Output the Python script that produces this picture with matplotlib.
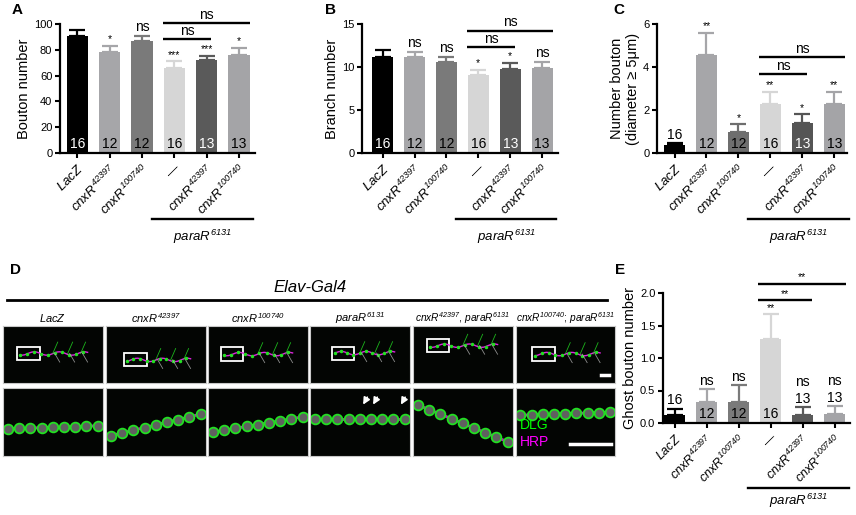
import matplotlib
matplotlib.use("Agg")
import matplotlib.pyplot as plt
import matplotlib.transforms as mtransforms
from matplotlib.patches import Rectangle
import numpy as np

plt.rcParams['font.family'] = ['Liberation Sans', 'DejaVu Sans']
plt.rcParams['mathtext.fontset'] = 'custom'
plt.rcParams['mathtext.rm'] = 'Liberation Sans:italic'
plt.rcParams['mathtext.it'] = 'Liberation Sans:italic'
plt.rcParams['mathtext.default'] = 'it'

# ---------------- data ----------------
genotypes = ["$LacZ$", "$cnxR^{42397}$", "$cnxR^{100740}$", "\u2014",
             "$cnxR^{42397}$", "$cnxR^{100740}$"]
group_label = "$paraR^{6131}$"
n_per_group = ["16", "12", "12", "16", "13", "13"]

bouton_mean = [91, 78, 87, 66, 72, 76]
bouton_err = [4.5, 5, 4, 5, 3.5, 5.5]
bouton_sig = ["", "*", "ns", "***", "***", "*"]

branch_mean = [11.2, 11.2, 10.6, 9.1, 9.8, 9.9]
branch_err = [0.8, 0.6, 0.6, 0.6, 0.7, 0.7]
branch_sig = ["", "ns", "ns", "*", "*", "ns"]

big_mean = [0.35, 4.55, 1.0, 2.3, 1.38, 2.3]
big_err = [0.1, 1.05, 0.35, 0.55, 0.42, 0.55]
big_sig = ["", "**", "*", "**", "*", "**"]

ghost_mean = [0.12, 0.33, 0.33, 1.3, 0.13, 0.14]
ghost_err = [0.1, 0.19, 0.25, 0.37, 0.11, 0.12]
ghost_sig = ["", "ns", "ns", "**", "ns", "ns"]

d_columns = ["$LacZ$", "$cnxR^{42397}$", "$cnxR^{100740}$", "$paraR^{6131}$",
             "$cnxR^{42397}$, $paraR^{6131}$", "$cnxR^{100740}$; $paraR^{6131}$"]

bar_colors = ["#000000", "#a6a6a9", "#7a7a7a", "#d6d6d6", "#5a5a5a", "#a4a4a7"]
bar_colors_c = ["#000000", "#a6a6a9", "#6e6e6e", "#d6d6d6", "#555555", "#a4a4a7"]

W, H = 856, 515
fig = plt.figure(figsize=(W / 100, H / 100), dpi=100)


def rect(x0, y0, x1, y1):
    return [x0 / W, 1 - y1 / H, (x1 - x0) / W, (y1 - y0) / H]


def bar_panel(r, xlim, means, errs, sigs, colors, ncolors, npos, ylim, yticks,
              yticklabels, ylabel, brackets, bracket_txt, under_y, para_y,
              fs_x=9.5):
    ax = fig.add_axes(r)
    x = np.arange(len(means))
    ax.bar(x, means, width=0.66, color=colors, zorder=2)
    for i in x:
        ax.errorbar(i, means[i], yerr=[[0], [errs[i]]], color=colors[i],
                    capsize=5.5, capthick=1.6, elinewidth=1.6, zorder=1,
                    clip_on=False)
        top = means[i] + errs[i]
        if npos[i] == "in":
            ax.annotate(n_per_group[i], (i, 0), xytext=(0, 1.5),
                        textcoords="offset points", ha="center", va="bottom",
                        fontsize=10, color=ncolors[i], zorder=3)
            ax.annotate(sigs[i], (i, top), xytext=(0, 1),
                        textcoords="offset points", ha="center", va="bottom",
                        fontsize=10 if sigs[i] == "ns" else 7.5,
                        annotation_clip=False)
        else:
            ax.annotate(n_per_group[i], (i, top), xytext=(0, 1),
                        textcoords="offset points", ha="center", va="bottom",
                        fontsize=10, color=ncolors[i], annotation_clip=False)
            ax.annotate(sigs[i], (i, top), xytext=(0, 13),
                        textcoords="offset points", ha="center", va="bottom",
                        fontsize=10 if sigs[i] == "ns" else 7.5,
                        annotation_clip=False)
    for (x1, x2, yb), t in zip(brackets, bracket_txt):
        ax.plot([x1, x2], [yb, yb], color="black", lw=1.7, clip_on=False,
                solid_capstyle="butt")
        ax.annotate(t, ((x1 + x2) / 2, yb), xytext=(0, 1),
                    textcoords="offset points", ha="center", va="bottom",
                    fontsize=10 if t == "ns" else 7.5, annotation_clip=False)
    ax.set_xlim(*xlim)
    ax.set_ylim(*ylim)
    ax.set_yticks(yticks)
    ax.set_yticklabels(yticklabels, fontsize=8)
    ax.set_xticks(x)
    ax.set_xticklabels(genotypes, rotation=45, ha="right",
                       rotation_mode="anchor", fontsize=fs_x)
    ax.set_ylabel(ylabel, fontsize=10.5, labelpad=2)
    for s in ["top", "right"]:
        ax.spines[s].set_visible(False)
    for s in ["left", "bottom"]:
        ax.spines[s].set_linewidth(1.6)
    ax.tick_params(axis="both", width=1.5, length=3.5, pad=2)
    ax.tick_params(axis="x", pad=3)
    tr = mtransforms.blended_transform_factory(ax.transData, ax.transAxes)
    ax.plot([2.3, 5.45], [under_y, under_y], color="black", lw=1.7,
            transform=tr, clip_on=False)
    ax.text((2.3 + 5.45) / 2, para_y, group_label, transform=tr, ha="center",
            va="center", fontsize=9.5)
    return ax


npos_in = ["in"] * 6
axA = bar_panel(rect(60, 24, 255, 153), (-0.54, 5.5), bouton_mean, bouton_err,
                bouton_sig, bar_colors,
                ["white", "black", "black", "black", "white", "black"], npos_in,
                (0, 100), [0, 20, 40, 60, 80, 100],
                ["0", "20", "40", "60", "80", "100"], "Bouton number",
                [(2.65, 4.15, 88), (2.65, 5.35, 100.7)], ["ns", "ns"],
                -0.51, -0.65)
axB = bar_panel(rect(362, 24, 558, 153), (-0.65, 5.5), branch_mean, branch_err,
                branch_sig, bar_colors,
                ["white", "black", "black", "black", "white", "black"], npos_in,
                (0, 15), [0, 5, 10, 15], ["0", "5", "10", "15"],
                "Branch number",
                [(2.65, 4.15, 12.3), (2.65, 5.35, 14.2)], ["ns", "ns"],
                -0.51, -0.65)
axC = bar_panel(rect(657, 24, 847, 153), (-0.55, 5.4), big_mean, big_err,
                big_sig, bar_colors_c,
                ["black", "black", "black", "black", "white", "black"],
                ["above"] + ["in"] * 5,
                (0, 6), [0, 2, 4, 6], ["0", "2", "4", "6"],
                "Number bouton\n(diameter \u2265 5\u03bcm)",
                [(2.65, 4.15, 3.67), (2.65, 5.35, 4.46)], ["ns", "ns"],
                -0.51, -0.65)
axE = bar_panel(rect(663, 293, 850, 423), (-0.37, 5.48), ghost_mean, ghost_err,
                ghost_sig, bar_colors,
                ["black", "black", "black", "black", "black", "black"],
                ["above", "in", "in", "in", "above", "above"],
                (0, 2.0), [0, 0.5, 1.0, 1.5, 2.0],
                ["0.0", "0.5", "1.0", "1.5", "2.0"], "Ghost bouton number",
                [(2.6, 4.3, 1.89), (2.6, 5.35, 2.14)], ["**", "**"],
                -0.5, -0.6, fs_x=9)

# panel letters
for lab, (px, py) in zip("ABCDE", [(12, 10), (325, 10), (613, 10), (10, 270),
                                   (615, 270)]):
    fig.text(px / W, 1 - py / H, lab, fontsize=11, fontweight="bold",
             ha="left", va="center")

# ---------------- panel D (micrograph sketch) ----------------
fig.text(310 / W, 1 - 287 / H, "Elav-Gal4", fontsize=12, style="italic",
         ha="center", va="center")
fig.add_artist(plt.Line2D([7 / W, 607 / W], [1 - 300 / H, 1 - 300 / H],
                          color="black", lw=2))
x_starts = [3, 106, 208, 310, 413, 515.5]
boxes = [(0.14, 0.41, 0.23, 0.215), (0.18, 0.29, 0.23, 0.23),
         (0.13, 0.39, 0.22, 0.235), (0.22, 0.41, 0.22, 0.23),
         (0.14, 0.54, 0.22, 0.23), (0.17, 0.39, 0.23, 0.235)]
green = "#22e022"
mag = "#e020e0"
for k, xs in enumerate(x_starts):
    fig.text((xs + 49.75) / W, 1 - 318 / H, d_columns[k],
             fontsize=8 if k < 4 else 7.3, ha="center", va="center")
    for row, (y0, y1) in enumerate([(326, 383), (388, 456)]):
        ax = fig.add_axes(rect(xs, y0, xs + 99.5, y1))
        ax.set_facecolor("#030503")
        ax.set_xlim(0, 1)
        ax.set_ylim(0, 1)
        ax.set_xticks([])
        ax.set_yticks([])
        for s in ax.spines.values():
            s.set_color("#c8c8c8")
            s.set_linewidth(0.8)
        if row == 0:
            bx, by, bw, bh = boxes[k]
            yc = by + bh / 2
            t = np.linspace(bx + 0.03, 0.85, 30)
            ax.plot(t, yc + 0.03 * np.sin(t * 25), color=mag, lw=1.0)
            ax.plot(t[::3], yc + 0.03 * np.sin(t[::3] * 25), "o", ms=1.5,
                    color=green)
            for bxp in [0.5, 0.65, 0.78]:
                ax.plot([bxp, bxp + 0.05], [yc, yc + 0.2], color=green,
                        lw=0.6, alpha=0.8)
                ax.plot([bxp + 0.02, bxp + 0.07], [yc, yc - 0.15],
                        color="#b0b0b0", lw=0.6, alpha=0.8)
            ax.add_patch(Rectangle((bx, by), bw, bh, fill=False,
                                   edgecolor="white", lw=1.3))
            if k == 5:
                ax.plot([0.86, 0.94], [0.14, 0.14], color="white", lw=2.5)
        else:
            ang = [0.05, 0.35, 0.25, 0.0, -0.6, 0.05][k]
            yb = [0.4, 0.3, 0.35, 0.55, 0.75, 0.6][k]
            t = np.linspace(0.05, 0.95, 9)
            yy = yb + ang * (t - 0.05)
            ax.plot(t, yy, color=mag, lw=2.0, alpha=0.85)
            ax.plot(t, yy, "o", ms=7, mfc="#606060", mec=green, mew=1.3)
            if k == 3:
                for ax_x in [0.52, 0.62, 0.9]:
                    ax.annotate("", xy=(ax_x, 0.72), xytext=(ax_x + 0.07, 0.9),
                                arrowprops=dict(arrowstyle="-|>", color="white",
                                                lw=1.2))
            if k == 5:
                ax.text(0.04, 0.45, "DLG", color="#00ff00", fontsize=10,
                        va="center")
                ax.text(0.04, 0.2, "HRP", color="#ff00ff", fontsize=10,
                        va="center")
                ax.plot([0.55, 0.96], [0.18, 0.18], color="white", lw=2.5)

fig.savefig("out.png", dpi=100)
